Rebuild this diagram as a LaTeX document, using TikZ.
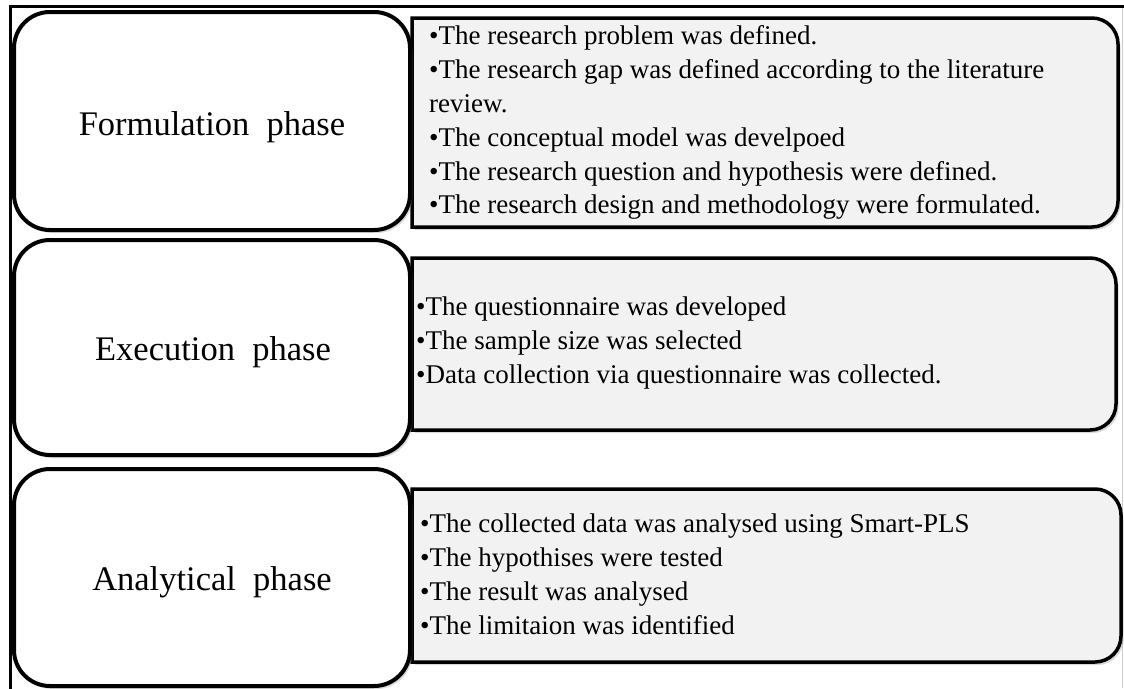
\documentclass[tikz,border=0pt]{standalone}
\usepackage{fontspec}
\setmainfont{Liberation Serif}
\usetikzlibrary{shadows}
\definecolor{boxgrey}{HTML}{F2F2F2}
\begin{document}
\begin{tikzpicture}[x=1pt,y=-1pt,
  phasebox/.style={draw=black, line width=4pt, fill=white, rounded corners=36pt,
    inner sep=0pt, minimum width=396pt,
    drop shadow={shadow xshift=2.5pt, shadow yshift=-3pt, opacity=0.3}},
  phasetitle/.style={anchor=base, inner sep=0pt, font=\fontsize{34.5}{40}\selectfont},
  listbox/.style={draw=black, line width=3.5pt, fill=boxgrey,
    drop shadow={shadow xshift=2.5pt, shadow yshift=-3pt, opacity=0.3}},
  item/.style={anchor=base west, inner sep=0pt, font=\fontsize{27}{34}\selectfont},
  frameline/.style={line width=3pt, line cap=rect}]
\useasboundingbox (0,0) rectangle (1124,688);
% outer frame
\draw[gray!40, line width=1pt] (1122.5,8) -- (1122.5,688);
\draw[frameline] (10,6.5) -- (1124,6.5);
\draw[frameline] (10,6.5) -- (10,688);
% right list boxes
\path[listbox] (412,18) -- (700,18) [rounded corners=26pt] -- (1118,18) -- (1118,227) -- (700,227) [sharp corners] -- (412,227) -- cycle;
\path[listbox] (412,258) -- (700,258) [rounded corners=26pt] -- (1116,258) -- (1116,430) -- (700,430) [sharp corners] -- (412,430) -- cycle;
\path[listbox] (412,489) -- (700,489) [rounded corners=26pt] -- (1121,489) -- (1121,662) -- (700,662) [sharp corners] -- (412,662) -- cycle;
% left phase boxes
\node[phasebox, minimum height=218pt] (form) at (212,121) {};
\node[phasebox, minimum height=215pt] (exec) at (212,347.5) {};
\node[phasebox, minimum height=217pt] (anal) at (212,577.5) {};
\node[phasetitle] (formt) at (212,135) {Formulation\ \ phase};
\node[phasetitle] (exect) at (213,360) {Execution\ \ phase};
\node[phasetitle] (analt) at (212,590) {Analytical\ \ phase};
% formulation items
\node[item] (f1) at (429,44) {\textbullet The research problem was defined.};
\node[item] (f2) at (429,78) {\textbullet The research gap was defined according to the literature};
\node[item] (f3) at (429,112) {review.};
\node[item] (f4) at (429,146) {\textbullet The conceptual model was develpoed};
\node[item] (f5) at (429,180) {\textbullet The research question and hypothesis were defined.};
\node[item] (f6) at (429,213) {\textbullet The research design and methodology were formulated.};
% execution items
\node[item] (e1) at (416,315) {\textbullet The questionnaire was developed};
\node[item] (e2) at (416,349) {\textbullet The sample size was selected};
\node[item] (e3) at (416,383) {\textbullet Data collection via questionnaire was collected.};
% analytical items
\node[item] (a1) at (420,532) {\textbullet The collected data was analysed using Smart-PLS};
\node[item] (a2) at (420,566) {\textbullet The hypothises were tested};
\node[item] (a3) at (420,600) {\textbullet The result was analysed};
\node[item] (a4) at (420,634) {\textbullet The limitaion was identified};
\end{tikzpicture}
\end{document}
